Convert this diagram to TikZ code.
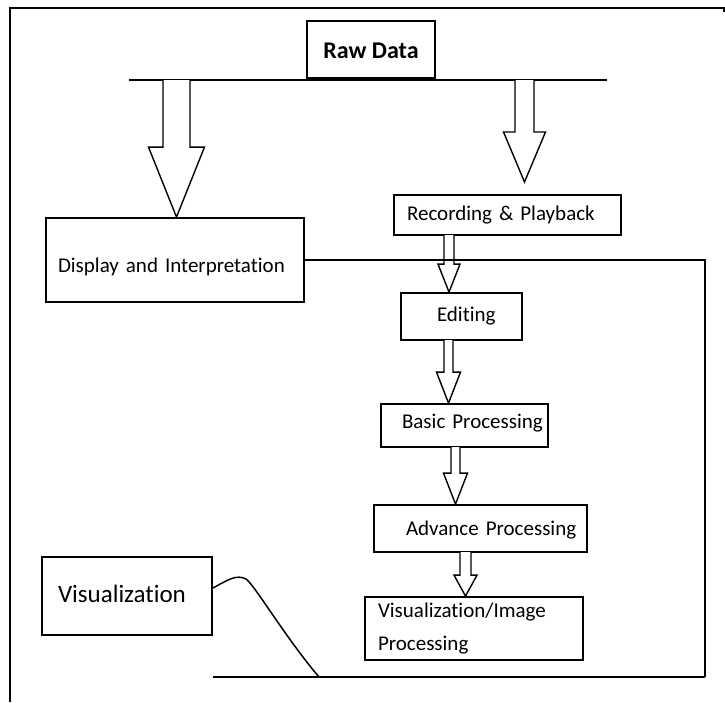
\documentclass[tikz,border=0pt]{standalone}
\usepackage{fontspec}
\setmainfont{Carlito}[Ligatures=NoCommon]
\usetikzlibrary{calc}

\tikzset{
  box/.style={draw=black, line width=1.8pt, fill=white, inner ysep=0pt,
              font=\fontsize{21}{25}\selectfont},
  link/.style={draw=black, line width=1.8pt},
  barrow/.style={draw=black, fill=white, line width=1.4pt, line join=miter},
}

% hollow block arrow: #1 start (shaft top centre), #2 tip,
% #3 shaft half width, #4 head half width, #5 head length
\newcommand\blockarrow[5]{%
  \filldraw[barrow] let \p1=(#1), \p2=(#2) in
    (\x1-#3,\y1) -- (\x1-#3,\y2+#5) -- (\x1-#4,\y2+#5) -- (\x1,\y2)
    -- (\x1+#4,\y2+#5) -- (\x1+#3,\y2+#5) -- (\x1+#3,\y1);}

\begin{document}
\begin{tikzpicture}[x=1pt,y=-1pt]
\useasboundingbox[fill=white] (0,0) rectangle (725,702);

% outer frame (left and top edges)
\draw[line width=2pt] (10,702) -- (10,8) -- (724,8) -- (724,12);

% boxes
\node[box, minimum width=128pt, minimum height=57pt, line width=2pt,
      font=\fontsize{24}{28}\selectfont\bfseries,
      text height=22pt, text depth=5pt] (raw) at (371,49.5) {Raw Data};

\node[box, minimum width=227pt, minimum height=40pt, text width=201pt,
      inner xsep=13pt, align=left, text height=15pt, text depth=5pt]
      (rec) at (507.5,215) {\rlap{Recording \& Playback}};

\node[box, minimum width=258pt, minimum height=84pt, text width=234pt,
      inner xsep=12pt, align=left, text height=29pt, text depth=5pt]
      (disp) at (175,260) {\rlap{Display and Interpretation}};

\node[box, minimum width=121pt, minimum height=47pt, text width=49pt,
      inner xsep=36pt, align=left, text height=14pt, text depth=5pt]
      (edit) at (461.5,316.5) {\rlap{Editing}};

\node[box, minimum width=167pt, minimum height=43pt, text width=125pt,
      inner xsep=21pt, align=left, text height=10pt, text depth=5pt]
      (basic) at (464.5,425.5) {\rlap{Basic Processing}};

\node[box, minimum width=213pt, minimum height=47pt, text width=149pt,
      inner xsep=32pt, align=left, text height=18pt, text depth=5pt]
      (adv) at (480.5,528.5) {\rlap{Advance Processing}};

\node[box, minimum width=218pt, minimum height=63pt, text width=192pt,
      inner xsep=13pt, align=left, font=\fontsize{21}{33}\selectfont]
      (visimg) at (474,628.5) {Visualization/Image\\Processing};

\node[box, minimum width=170pt, minimum height=78pt, text width=138pt,
      inner xsep=16pt, align=left, font=\fontsize{25}{30}\selectfont,
      text height=17pt, text depth=5pt]
      (visn) at (127,596) {\rlap{Visualization}};

% bar under the raw data box
\coordinate (barL) at (129,80);
\coordinate (barR) at (607,80);
\draw[link] (barL) -- (barR);

% block arrows
\coordinate (a1s) at (176.5,80);
\coordinate (a2s) at (524.5,80);
\coordinate (a2t) at (524.5,182);
\coordinate (a3s) at (449,235);
\coordinate (a4s) at (448.5,340);
\coordinate (a5s) at (455.5,447);
\coordinate (a6s) at (465.5,552);

\blockarrow{a1s}{a1s |- disp.north}{13.5pt}{28pt}{70pt}
\blockarrow{a2s}{a2t}{9.5pt}{21pt}{50pt}
\blockarrow{a3s}{a3s |- edit.north}{5pt}{11pt}{28pt}
\blockarrow{a4s}{a4s |- basic.north}{4.5pt}{12pt}{31pt}
\blockarrow{a5s}{a5s |- adv.north}{4.5pt}{12pt}{31pt}
\blockarrow{a6s}{a6s |- visimg.north}{5.5pt}{11.5pt}{21pt}

% return loop
\coordinate (rc) at (705,677);
\coordinate (bl) at (213,677);
\coordinate (foot) at (319,677);
\draw[link] (disp.east) -| (rc);
\draw[link, line width=2.6pt] (rc) -- (bl);

% hand-drawn link from the visualization box
\draw[link, line width=1.5pt, line cap=round]
  ([yshift=8pt]visn.east) .. controls (228,580) and (236,574) .. (246,579)
  .. controls (254,584) and (285,637) .. (foot);
\end{tikzpicture}
\end{document}
